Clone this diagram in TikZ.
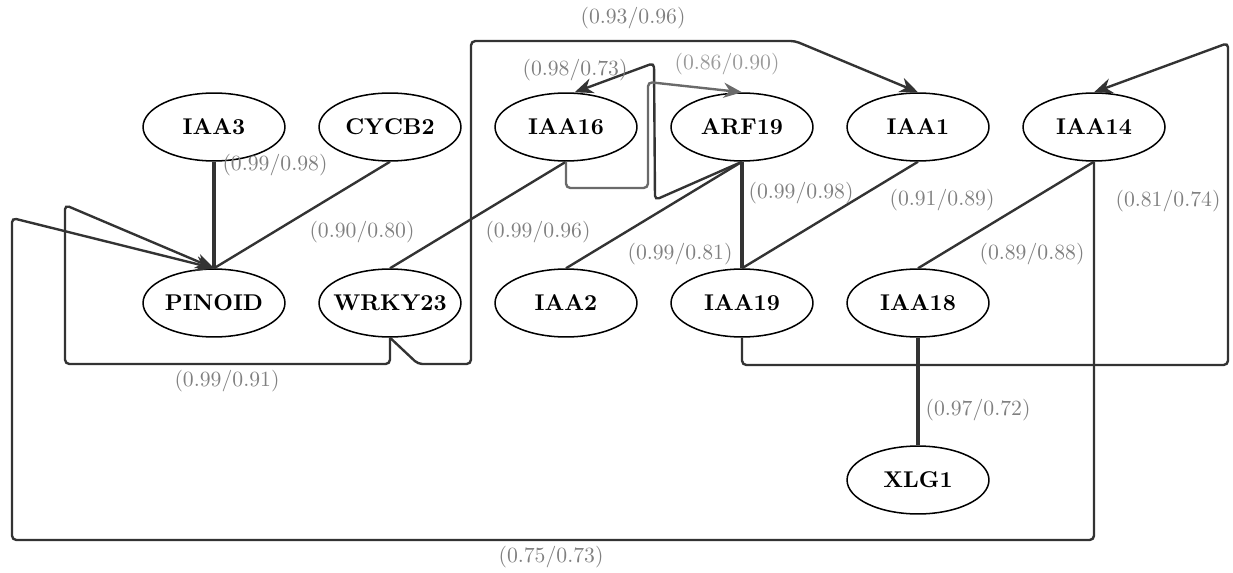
\documentclass[tikz,border=0pt]{standalone}
\usetikzlibrary{arrows.meta,shapes.geometric}
\definecolor{edgecol}{HTML}{333333}
\definecolor{labcol}{HTML}{808080}
\definecolor{graycol}{HTML}{6A6A6A}
\begin{document}
\begin{tikzpicture}[x=0.4608pt,y=-0.4608pt,
  gnode/.style={ellipse,draw=black,line width=0.7pt,inner sep=0pt,
    minimum width=65.4pt,minimum height=31.3pt,font=\fontsize{10.5}{12}\bfseries},
  edge/.style={draw=edgecol,line width=1.1pt,rounded corners=2pt},
  thickedge/.style={draw=edgecol,line width=2pt},
  grayedge/.style={draw=graycol,line width=1.1pt,rounded corners=2pt},
  arr/.style={-{Stealth[length=8.5pt,width=7pt]}},
  lab/.style={text=labcol,inner sep=0pt},
  lablight/.style={text=labcol!80,inner sep=0pt}]
\useasboundingbox (0,0) rectangle (1233,573);
% nodes
\node[gnode] (IAA3)   at (214,127) {\makebox[0pt]{IAA3}};
\node[gnode] (CYCB2)  at (390,127) {\makebox[0pt]{CYCB2}};
\node[gnode] (IAA16)  at (566,127) {\makebox[0pt]{IAA16}};
\node[gnode] (ARF19)  at (742,127) {\makebox[0pt]{ARF19}};
\node[gnode] (IAA1)   at (918,127) {\makebox[0pt]{IAA1}};
\node[gnode] (IAA14)  at (1094,127) {\makebox[0pt]{IAA14}};
\node[gnode] (PINOID) at (214,303) {\makebox[0pt]{PINOID}};
\node[gnode] (WRKY23) at (390,303) {\makebox[0pt]{WRKY23}};
\node[gnode] (IAA2)   at (566,303) {\makebox[0pt]{IAA2}};
\node[gnode] (IAA19)  at (742,303) {\makebox[0pt]{IAA19}};
\node[gnode] (IAA18)  at (918,303) {\makebox[0pt]{IAA18}};
\node[gnode] (XLG1)   at (918,480) {\makebox[0pt]{XLG1}};
% straight edges
\draw[thickedge] (IAA3.south) -- (PINOID.north);
\draw[edge] (CYCB2.south) -- (PINOID.north);
\draw[edge] (WRKY23.north) -- (IAA16.south);
\draw[edge] (IAA2.north) -- (ARF19.south);
\draw[thickedge] (ARF19.south) -- (IAA19.north);
\draw[edge] (IAA1.south) -- (IAA19.north);
\draw[edge] (IAA14.south) -- (IAA18.north);
\draw[thickedge] (IAA18.south) -- (XLG1.north);
% routed edges
\draw[edge,arr] (IAA14.south) -- (1094,540) -- (12,540) -- (12,218) -- (PINOID.north);
\draw[edge,arr] (WRKY23.south) -- (390,364) -- (65,364) -- (65,205) -- (PINOID.north);
\draw[edge,arr] (WRKY23.south) -- (418,364) -- (471,364) -- (471,41) -- (795,41) -- (IAA1.north);
\draw[edge,arr] (ARF19.south) -- (655,200) -- (654,63) -- ([xshift=4pt]IAA16.north);
\draw[grayedge,arr] (IAA16.south) -- (566,188) -- (648,188) -- (648,82) -- (ARF19.north);
\draw[edge,arr] (IAA19.south) -- (742,365) -- (1228,365) -- (1228,43) -- (IAA14.north);
% labels
\node[lab] (l1)  at (633,18)  {(0.93/0.96)};
\node[lab] (l2)  at (575,70)  {(0.98/0.73)};
\node[lablight] (l3)  at (727,64)  {(0.86/0.90)};
\node[lab] (l4)  at (275,165) {(0.99/0.98)};
\node[lab] (l5)  at (362,232) {(0.90/0.80)};
\node[lab] (l6)  at (538,232) {(0.99/0.96)};
\node[lab] (l7)  at (801,193) {(0.99/0.98)};
\node[lab] (l8)  at (942,200) {(0.91/0.89)};
\node[lab] (l9)  at (1168,201) {(0.81/0.74)};
\node[lab] (l10) at (680,254) {(0.99/0.81)};
\node[lab] (l11) at (1032,254) {(0.89/0.88)};
\node[lab] (l12) at (227,381) {(0.99/0.91)};
\node[lab] (l13) at (978,410) {(0.97/0.72)};
\node[lab] (l14) at (551,557) {(0.75/0.73)};
\end{tikzpicture}
\end{document}
